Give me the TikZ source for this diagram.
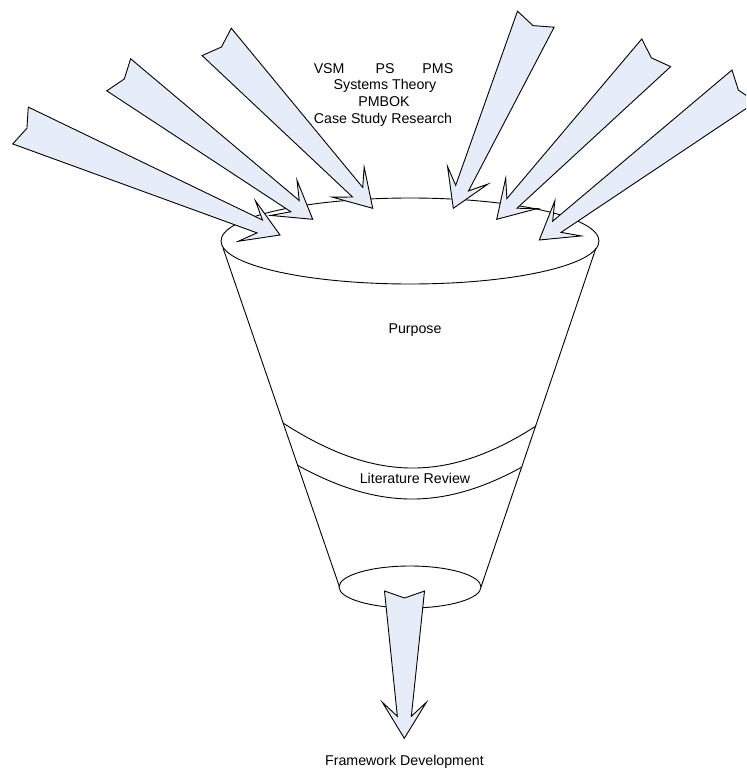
\documentclass[tikz,border=0pt]{standalone}
\usepackage{fontspec}
\setmainfont{Liberation Sans}
\usepackage[x11names]{xcolor}
\definecolor{ArrowBlue}{RGB}{231,237,248}
\usetikzlibrary{calc}

\begin{document}
\begin{tikzpicture}[x=1pt,y=-1pt,line width=0.9pt,font=\fontsize{14.2}{17}\selectfont,
  txt/.style={anchor=base,inner sep=0pt}]
         \useasboundingbox (0,0) rectangle (746,770);
         \clip (0,0) rectangle (746,770);
         % funnel
         \draw (410,241) coordinate (A) ellipse [x radius=189pt, y radius=43pt];
         \draw (410,587) coordinate (B) ellipse [x radius=71pt, y radius=21pt];
         \draw (223,248) coordinate (C) -- (339.5,587) coordinate (D);
         \draw (596,248) coordinate (E) -- (481,587) coordinate (F);
         \draw (283,423) .. controls (373,481) and (446,484) .. (536,426);
         \draw (297,465) .. controls (377,509) and (442,511) .. (522,467);
         % arrows: tail middle / tip
         \foreach \tx/\ty/\px/\py in {20.5/125.5/280/235, 118.7/74.8/312.7/219.3, 216.7/41.9/372.7/208.3,
                 535.8/19.2/453.3/208.3, 656.2/52.8/496.7/219.3, 744/86/539.3/240, 404.5/591/404.3/738.3}{
           \coordinate (T) at (\tx,\ty);
           \coordinate (P) at (\px,\py);
           \filldraw[black,fill=ArrowBlue] ($(T)!20pt!90:(P)$) -- ($(T)!7pt!(P)$) -- ($(T)!20pt!-90:(P)$)
             -- ($(P)!22pt!(T)!7pt!90:(T)$) -- ($(P)!36pt!(T)!22pt!90:(T)$) -- (P)
             -- ($(P)!36pt!(T)!22pt!-90:(T)$) -- ($(P)!22pt!(T)!7pt!-90:(T)$) -- cycle;
         }
         \node[txt] (N) at (383.5,73.3) {VSM\hspace{31pt}PS\hspace{28pt}PMS};
         \node[txt] (O) at (385,90) {Systems Theory};
         \node[txt] (Q) at (384,106.7) {PMBOK};
         \node[txt] (R) at (383,124) {Case Study Research};
         \node[txt] (S) at (415,333.3) {Purpose};
         \node[txt] (U) at (415,483.3) {Literature Review};
         \node[txt] (V) at (404.5,765) {Framework Development};
       \end{tikzpicture}
\end{document}
